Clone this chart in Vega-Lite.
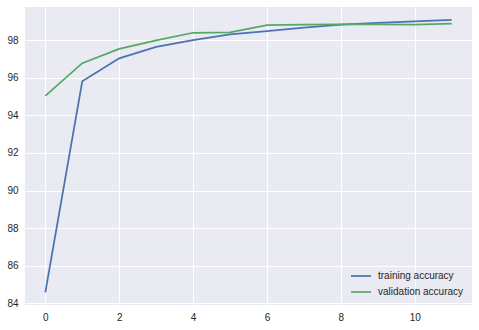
{
  "$schema": "https://vega.github.io/schema/vega-lite/v6.json",
  "width": 447,
  "height": 298,
  "autosize": {"type": "none"},
  "padding": {"left": 25, "top": 7, "right": 7, "bottom": 25},
  "background": "white",
  "config": {
    "view": {"fill": "#EAEAF2", "stroke": null},
    "font": "Liberation Sans",
    "axis": {
      "domain": false,
      "ticks": false,
      "grid": true,
      "gridColor": "white",
      "gridWidth": 1,
      "labelFont": "Liberation Sans",
      "labelFontSize": 10,
      "labelColor": "#262626",
      "labelPadding": 7,
      "title": null
    },
    "legend": {
      "labelFont": "Liberation Sans",
      "labelFontSize": 10,
      "labelColor": "#262626"
    }
  },
  "data": {
    "values": [
      {"epoch": 0, "accuracy": 84.58, "series": "training accuracy"},
      {"epoch": 1, "accuracy": 95.81, "series": "training accuracy"},
      {"epoch": 2, "accuracy": 97.03, "series": "training accuracy"},
      {"epoch": 3, "accuracy": 97.64, "series": "training accuracy"},
      {"epoch": 4, "accuracy": 98.0, "series": "training accuracy"},
      {"epoch": 5, "accuracy": 98.31, "series": "training accuracy"},
      {"epoch": 6, "accuracy": 98.48, "series": "training accuracy"},
      {"epoch": 7, "accuracy": 98.66, "series": "training accuracy"},
      {"epoch": 8, "accuracy": 98.82, "series": "training accuracy"},
      {"epoch": 9, "accuracy": 98.91, "series": "training accuracy"},
      {"epoch": 10, "accuracy": 99.0, "series": "training accuracy"},
      {"epoch": 11, "accuracy": 99.07, "series": "training accuracy"},
      {"epoch": 0, "accuracy": 95.03, "series": "validation accuracy"},
      {"epoch": 1, "accuracy": 96.77, "series": "validation accuracy"},
      {"epoch": 2, "accuracy": 97.53, "series": "validation accuracy"},
      {"epoch": 3, "accuracy": 97.98, "series": "validation accuracy"},
      {"epoch": 4, "accuracy": 98.39, "series": "validation accuracy"},
      {"epoch": 5, "accuracy": 98.41, "series": "validation accuracy"},
      {"epoch": 6, "accuracy": 98.8, "series": "validation accuracy"},
      {"epoch": 7, "accuracy": 98.82, "series": "validation accuracy"},
      {"epoch": 8, "accuracy": 98.84, "series": "validation accuracy"},
      {"epoch": 9, "accuracy": 98.84, "series": "validation accuracy"},
      {"epoch": 10, "accuracy": 98.82, "series": "validation accuracy"},
      {"epoch": 11, "accuracy": 98.87, "series": "validation accuracy"}
    ]
  },
  "mark": {"type": "line", "strokeWidth": 1.75, "clip": true},
  "encoding": {
    "x": {
      "field": "epoch",
      "type": "quantitative",
      "scale": {"domain": [-0.55, 11.55], "nice": false, "zero": false},
      "axis": {"values": [0, 2, 4, 6, 8, 10], "labelFlush": false}
    },
    "y": {
      "field": "accuracy",
      "type": "quantitative",
      "scale": {"domain": [83.91, 99.76], "nice": false, "zero": false},
      "axis": {"values": [84, 86, 88, 90, 92, 94, 96, 98], "labelFlush": false}
    },
    "color": {
      "field": "series",
      "type": "nominal",
      "scale": {
        "domain": ["training accuracy", "validation accuracy"],
        "range": ["#4C72B0", "#55A868"]
      },
      "legend": {
        "title": null,
        "orient": "bottom-right",
        "offset": 8,
        "symbolType": "stroke",
        "symbolSize": 400,
        "symbolStrokeWidth": 1.75,
        "rowPadding": -7,
        "labelOffset": 6
      }
    }
  }
}
